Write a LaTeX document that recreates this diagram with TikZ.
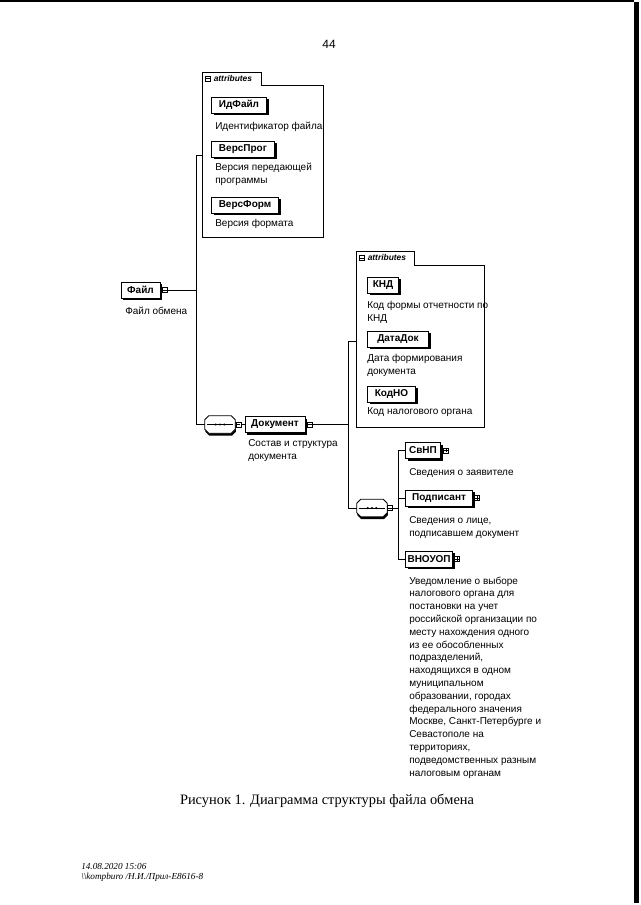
\documentclass[tikz,border=0pt]{standalone}
\usepackage{fontspec}
\setmainfont{Liberation Sans}
\newfontfamily\capserif{Liberation Serif}
\usetikzlibrary{fit}
\newcommand\MinusMark[1]{\draw[line width=0.5pt] ([xshift=0.9pt]#1.west) -- ([xshift=-0.9pt]#1.east);}
\newcommand\PlusMark[1]{\MinusMark{#1}\draw[line width=0.5pt] ([yshift=0.9pt]#1.south) -- ([yshift=-0.9pt]#1.north);}
\newcommand\StackL[1]{\begin{tabular}[t]{@{}l@{}}#1\end{tabular}}
\newcommand\SeqPath[1]{([xshift=3pt]#1.north west) -- ([xshift=-3pt]#1.north east) -- ([yshift=-3pt]#1.north east) -- ([yshift=3pt]#1.south east) -- ([xshift=-3pt]#1.south east) -- ([xshift=3pt]#1.south west) -- ([yshift=3pt]#1.south west) -- ([yshift=-3pt]#1.north west) -- cycle}
\newcommand\SeqShape[1]{%
  \fill[black, transform canvas={shift={(0.5pt,-1.8pt)}}] \SeqPath{#1};
  \draw[line width=0.7pt, fill=white] \SeqPath{#1};
  \draw[line width=0.6pt] ([xshift=2pt]#1.west) -- ([xshift=-2pt]#1.east);
  \foreach \dx in {-3.2,0,3.2} \fill ([xshift=\dx pt]#1.center) circle (0.85pt);}
\begin{document}
\begin{tikzpicture}[x=0.75pt,y=-0.75pt,
  lbl/.style={font=\fontsize{7.5}{9.75}\selectfont, anchor=base west, inner sep=0pt},
  ename/.style={draw, line width=0.7pt, fill=white, font=\fontsize{7.5}{9}\selectfont\bfseries,
     inner sep=0pt, minimum height=16*0.75pt,
     preaction={fill=black, transform canvas={shift={(1.6pt,-1.6pt)}}}},
  ew/.style={minimum width=#1*0.75pt},
  iconbox/.style={draw, fill=white, line width=0.5pt, minimum size=5*0.75pt, inner sep=0pt},
  seqnode/.style={inner sep=0pt, minimum width=30*0.75pt, minimum height=17*0.75pt},
  wire/.style={line width=0.6pt},
  abox/.style={line width=0.6pt},
  atext/.style={font=\fontsize{6.3}{7}\selectfont\itshape\bfseries, anchor=base west, inner sep=0pt}
]
\useasboundingbox (0,0) rectangle (640,905);
% scan edges
\fill[black] (634,2) rectangle (639,903);
\fill[black] (0,0) rectangle (634,2);

% page number
\node[font=\fontsize{9}{10}\selectfont, anchor=base, inner sep=0pt] (pagenum) at (329,49) {44};

% ---------- attributes box 1
\draw[abox] (261,85) -- (323,85) -- (323,237) -- (202,237) -- (202,72) -- (261,72) -- cycle;
\coordinate (a1nw) at (202,85); \coordinate (a1se) at (323,237);
\node[fit=(a1nw)(a1se), inner sep=0pt] (attr1) {};
\node[iconbox] (a1icon) at (208,78.5) {}; \MinusMark{a1icon}
\node[atext] (a1lbl) at (213.5,81.5) {attributes};

\node[ename, ew=55] (idfile) at (239,105) {ИдФайл};
\node[lbl] (idfiletxt) at (215,130) {Идентификатор файла};
\node[ename, ew=63] (versprog) at (243,149) {ВерсПрог};
\node[lbl] (versprogtxt) at (215,171) {\StackL{Версия передающей\\программы}};
\node[ename, ew=67] (versform) at (245,205) {ВерсФорм};
\node[lbl] (versformtxt) at (215,227) {Версия формата};

% ---------- root
\node[ename, ew=39] (file) at (140.5,290) {Файл};
\node[iconbox] (mfile) at (165,290) {}; \MinusMark{mfile}
\node[lbl] (filetxt) at (125,314) {Файл обмена};

\coordinate (j1) at (196,155);
\node[seqnode] (seq1) at (220,424.5) {};
\SeqShape{seq1}
\node[iconbox] (mseq1) at (238.5,424.5) {}; \MinusMark{mseq1}

\draw[wire] (file.east) -- (mfile.west);
\draw[wire] (mfile.east) -- (mfile.east -| j1);
\draw[wire] (attr1.west |- j1) -- (j1) -- (j1 |- seq1.west) -- (seq1.west);

\node[ename, ew=60] (doc) at (275,424.5) {Документ};
\node[iconbox] (mdoc) at (310,424.5) {}; \MinusMark{mdoc}
\node[lbl] (doctxt) at (248,446) {\StackL{Состав и структура\\документа}};
\draw[wire] (mseq1.east) -- (doc.west);
\draw[wire] (doc.east) -- (mdoc.west);

% ---------- attributes box 2
\draw[abox] (414,265) -- (484,265) -- (484,427) -- (356,427) -- (356,251) -- (414,251) -- cycle;
\coordinate (a2nw) at (356,265); \coordinate (a2se) at (484,427);
\node[fit=(a2nw)(a2se), inner sep=0pt] (attr2) {};
\node[iconbox] (a2icon) at (362,258) {}; \MinusMark{a2icon}
\node[atext] (a2lbl) at (367.5,261) {attributes};

\node[ename, ew=31] (knd) at (383,285) {КНД};
\node[lbl] (kndtxt) at (367,308) {\StackL{Код формы отчетности по\\КНД}};
\node[ename, ew=61] (datadok) at (398,339) {ДатаДок};
\node[lbl] (datadoktxt) at (367,361) {\StackL{Дата формирования\\документа}};
\node[ename, ew=48] (kodno) at (391.5,394) {КодНО};
\node[lbl] (kodnotxt) at (367,414) {Код налогового органа};

\coordinate (j2) at (348,341);
\node[seqnode] (seq2) at (372,508) {};
\SeqShape{seq2}
\node[iconbox] (mseq2) at (390,508) {}; \MinusMark{mseq2}

\draw[wire] (mdoc.east) -- (mdoc.east -| j2);
\draw[wire] (attr2.west |- j2) -- (j2) -- (j2 |- seq2.west) -- (seq2.west);

% ---------- children
\coordinate (j3) at (398,450.5);
\node[ename, ew=35] (svnp) at (423,450.5) {СвНП};
\node[iconbox] (psvnp) at (446,450.5) {}; \PlusMark{psvnp}
\node[lbl] (svnptxt) at (409,475) {Сведения о заявителе};

\node[ename, ew=67] (podp) at (439,498) {Подписант};
\node[iconbox] (ppodp) at (477,498) {}; \PlusMark{ppodp}
\node[lbl] (podptxt) at (409,523) {\StackL{Сведения о лице,\\подписавшем документ}};

\node[ename, ew=47] (vnouop) at (429,559) {ВНОУОП};
\node[iconbox] (pvnouop) at (457,559) {}; \PlusMark{pvnouop}
\node[lbl, font=\fontsize{7.5}{9.6}\selectfont] (vnouoptxt) at (409,584) {\StackL{Уведомление о выборе\\налогового органа для\\постановки на учет\\российской организации по\\месту нахождения одного\\из ее обособленных\\подразделений,\\находящихся в одном\\муниципальном\\образовании, городах\\федерального значения\\Москве, Санкт-Петербурге и\\Севастополе на\\территориях,\\подведомственных разным\\налоговым органам}};

\draw[wire] (mseq2.east) -- (mseq2.east -| j3);
\draw[wire] (svnp.west) -- (j3) -- (j3 |- vnouop.west) -- (vnouop.west);
\draw[wire] (j3 |- podp.west) -- (podp.west);
\draw[wire] (svnp.east) -- (psvnp.west);
\draw[wire] (podp.east) -- (ppodp.west);
\draw[wire] (vnouop.east) -- (pvnouop.west);

% caption
\node[font=\capserif\fontsize{10.8}{13}\selectfont, anchor=base, inner sep=0pt] (caption) at (327,804) {Рисунок 1. Диаграмма структуры файла обмена};
% footer
\node[font=\capserif\itshape\fontsize{6.9}{7.5}\selectfont, anchor=base west, inner sep=0pt] (footer) at (81,869) {\StackL{14.08.2020 15:06\\\textbackslash\textbackslash kompburo /Н.И./Прил-Е8616-8}};
\end{tikzpicture}
\end{document}
